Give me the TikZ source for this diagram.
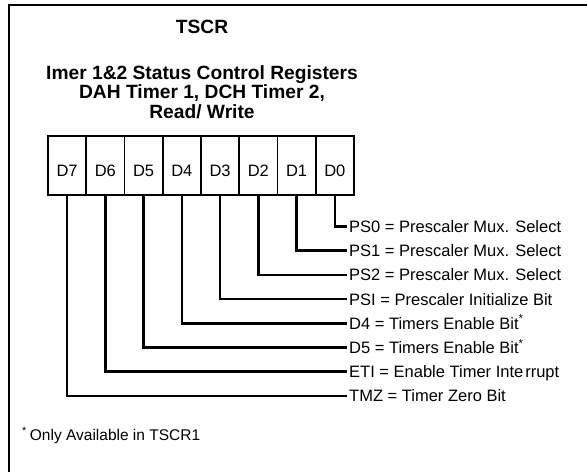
\documentclass[tikz,border=0pt]{standalone}
\usepackage{fontspec}
\setmainfont{Liberation Sans}
\begin{document}
\begin{tikzpicture}[x=1pt,y=-1pt,
  cell/.style={draw, line width=1.6pt, minimum width=38.25pt, minimum height=59pt,
    inner sep=0pt, text height=21pt, text depth=0pt, font=\fontsize{16.5}{18}\selectfont},
  lbl/.style={anchor=west, inner xsep=2pt, inner ysep=0pt, text height=11.8pt, text depth=0pt,
    font=\fontsize{16.5}{18}\selectfont},
  conn/.style={line width=2.7pt},
  heading/.style={font=\bfseries\fontsize{19.2}{19.5}\selectfont, align=center}]
\useasboundingbox (0,0) rectangle (587,472);
\fill[white] (0,0) rectangle (587,472);
\draw[line width=2.6pt] (9,472) -- (9,5) -- (587,5);

\node[heading, anchor=base] (title) at (202,33) {TSCR};
\node[heading, anchor=north] (sub) at (202,62) {Imer 1\&2 Status Control Registers\\DAH Timer 1, DCH Timer 2,\\Read/ Write};

\foreach \n [count=\i from 0] in {7,6,5,4,3,2,1,0}
  \node[cell] (d\n) at ({48+38.25*(\i+0.5)},165.5) {D\n};

\foreach \n/\t [count=\k from 0] in {
  0/{PS0 = Prescaler Mux. Select},
  1/{PS1 = Prescaler Mux. Select},
  2/{PS2 = Prescaler Mux. Select},
  3/{PSI = Prescaler Initialize Bit},
  4/{D4 = Timers Enable Bit\textsuperscript{*}},
  5/{D5 = Timers Enable Bit\textsuperscript{*}},
  6/{ETI = Enable Timer Inte\kern2pt rrupt},
  7/{TMZ = Timer Zero Bit}}
{
  \node[lbl] (l\n) at (347,{226.5+24.2*\k}) {\t};
  \draw[conn] (d\n.south) |- (l\n.west);
}

\node[anchor=base west, inner sep=0pt, font=\fontsize{15.5}{18}\selectfont] (note) at (22,440)
  {\textsuperscript{*}\kern3pt Only Available in TSCR1};
\end{tikzpicture}
\end{document}
